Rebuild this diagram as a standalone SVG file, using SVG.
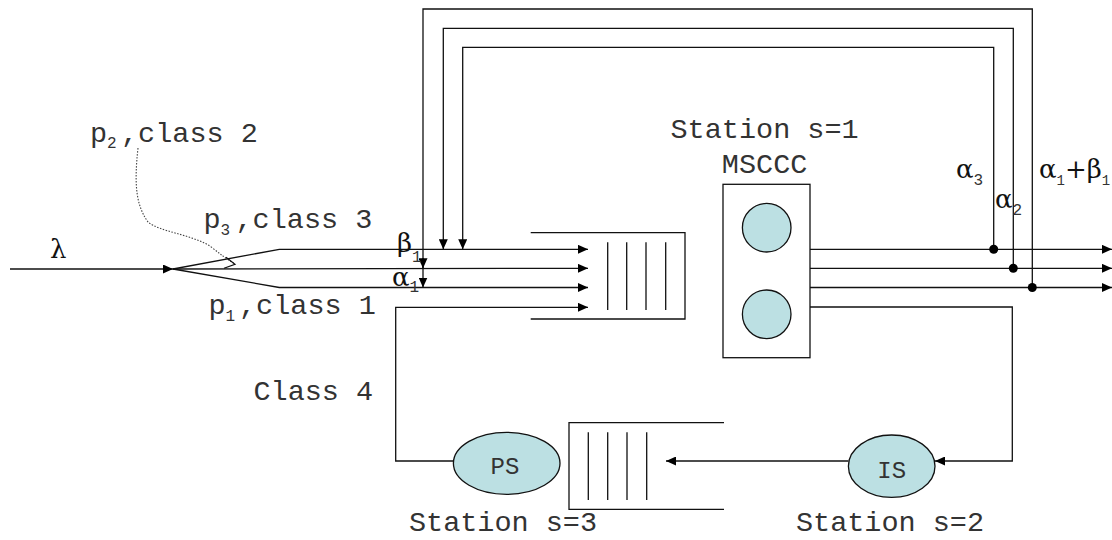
<svg xmlns="http://www.w3.org/2000/svg" width="1112" height="540" viewBox="0 0 1112 540">
<style>
.ln{fill:none;stroke:#111;stroke-width:1.3}
.mono{font-family:"Liberation Mono","Courier New",monospace;fill:#333}
.big{font-size:28.5px}
.sub{font-size:16px}
.gr{font-family:"DejaVu Serif","Liberation Serif",serif;font-size:26px;fill:#111}
.srv{fill:#BCE0E3;stroke:#111;stroke-width:1.3}
.dot{fill:#000}
</style>
<defs>
<marker id="arr" markerUnits="userSpaceOnUse" markerWidth="10" markerHeight="9" refX="10" refY="4.5" orient="auto">
<path d="M0,0 L10,4.5 L0,9 z" fill="#000"/>
</marker>
</defs>
<rect width="1112" height="540" fill="#fff"/>

<g id="connectors">
<path class="ln" d="M10,269 L173,269" marker-end="url(#arr)"/>
<path class="ln" d="M173,269 L279.3,249.3 L588,249.3" marker-end="url(#arr)"/>
<path class="ln" d="M173,269 L588,268.3" marker-end="url(#arr)"/>
<path class="ln" d="M173,269 L279.3,287.5 L588,287.5" marker-end="url(#arr)"/>
<path class="ln" d="M453.3,461 L395.7,461 L395.7,307.3 L588,307.3" marker-end="url(#arr)"/>
<path class="ln" d="M810,249.3 L1112,249.3" marker-end="url(#arr)"/>
<path class="ln" d="M810,268.3 L1112,268.3" marker-end="url(#arr)"/>
<path class="ln" d="M810,287.5 L1112,287.5" marker-end="url(#arr)"/>
<path class="ln" d="M810,307 L1012.3,307 L1012.3,461 L935,461" marker-end="url(#arr)"/>
<path class="ln" d="M848.3,461 L666,461" marker-end="url(#arr)"/>
<path class="ln" d="M993.7,249.3 L993.7,47.3 L462.7,47.3 L462.7,249.3" marker-end="url(#arr)"/>
<path class="ln" d="M1013.3,268.3 L1013.3,28.3 L443.3,28.3 L443.3,249.3" marker-end="url(#arr)"/>
<path class="ln" d="M1032.3,287.5 L1032.3,9 L423,9 L423,287.5" marker-end="url(#arr)"/>
<path class="ln" d="M423,258 L423,268.3" marker-end="url(#arr)"/>
<circle class="dot" cx="993.7" cy="249.3" r="4.5"/>
<circle class="dot" cx="1013.3" cy="268.3" r="4.5"/>
<circle class="dot" cx="1032.3" cy="287.5" r="4.5"/>
<path d="M138,148 C134,185 136,205 148,222 C160,232 190,234 210,246 C220,254 228,260 235,264" fill="none" stroke="#444" stroke-width="1.1" stroke-dasharray="1.5,1.5"/>
<polyline points="226,257.3 235,264.3 224,268.3" fill="none" stroke="#111" stroke-width="1.2"/>
</g>

<g id="station1-queue">
<path class="ln" d="M530.7,232.7 L685,232.7 L685,319 L530.7,319"/>
<path class="ln" d="M607.7,242.3 V310 M626.7,242.3 V310 M646,242.3 V310 M665.7,242.3 V310"/>
</g>

<g id="station1-mscc">
<rect x="723" y="184.3" width="87" height="173.4" fill="#fff" stroke="#111" stroke-width="1.3"/>
<circle class="srv" cx="766.7" cy="227.7" r="24.3"/>
<circle class="srv" cx="766.7" cy="314.3" r="24.3"/>
<text class="mono big" x="764.6" y="138" text-anchor="middle">Station s=1</text>
<text class="mono big" x="764.6" y="173" text-anchor="middle">MSCCC</text>
</g>

<g id="station3">
<path class="ln" d="M724,422.7 L569,422.7 L569,509.3 L724,509.3"/>
<path class="ln" d="M588.3,432.3 V500 M607.7,432.3 V500 M627,432.3 V500 M646.7,432.3 V500"/>
<ellipse class="srv" cx="506.7" cy="463.3" rx="53.3" ry="31"/>
<text class="mono" font-size="24" x="505" y="474" text-anchor="middle">PS</text>
<text class="mono big" x="503" y="531" text-anchor="middle">Station s=3</text>
</g>

<g id="station2">
<ellipse class="srv" cx="891.7" cy="466.2" rx="43.3" ry="31.2"/>
<text class="mono" font-size="24" x="891.7" y="478" text-anchor="middle">IS</text>
<text class="mono big" x="890" y="531" text-anchor="middle">Station s=2</text>
</g>

<g id="labels">
<text class="gr" font-size="24" x="50" y="258">λ</text>
<text class="mono big" x="90" y="141.7">p<tspan class="sub" dy="6.5">2</tspan><tspan x="121" dy="-6.5">,class 2</tspan></text>
<text class="mono big" x="203.5" y="228.3">p<tspan class="sub" dy="6.5">3</tspan><tspan x="235.5" dy="-6.5">,class 3</tspan></text>
<text class="mono big" x="208.5" y="314">p<tspan class="sub" dy="6.5">1</tspan><tspan x="239" dy="-6.5">,class 1</tspan></text>
<text class="mono big" x="313.3" y="400" text-anchor="middle">Class 4</text>
<text class="gr" x="397" y="252">β<tspan class="mono sub" dy="10">1</tspan></text>
<text class="gr" x="392" y="286">α<tspan class="mono sub" dy="6">1</tspan></text>
<text class="gr" x="956" y="178">α<tspan class="mono sub" dy="7">3</tspan></text>
<text class="gr" x="995" y="208">α<tspan class="mono sub" dy="7">2</tspan></text>
<text class="gr" font-size="25" x="1039" y="178">α<tspan class="mono" font-size="14" dy="7">1</tspan><tspan dy="-7">+β</tspan><tspan class="mono" font-size="14" dy="7">1</tspan></text>
</g>
</svg>
